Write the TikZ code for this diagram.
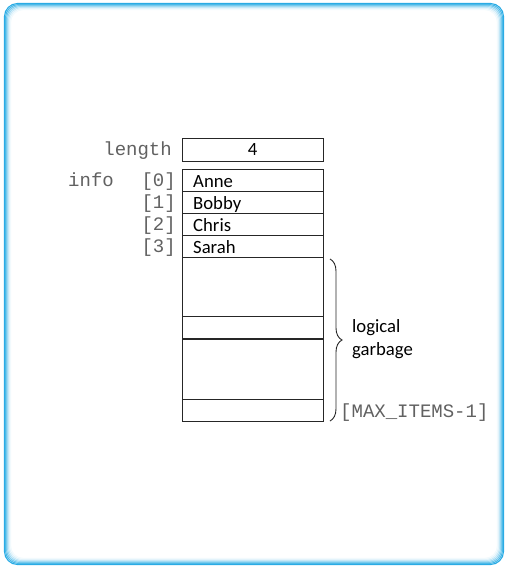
\documentclass[tikz,border=0pt]{standalone}
\usepackage{fontspec}
\setmainfont{Carlito}
\newfontfamily\monof{Liberation Mono}
\usetikzlibrary{decorations.pathreplacing}
\definecolor{frameblue}{RGB}{38,170,228}
\begin{document}
\begin{tikzpicture}[x=1pt,y=-1pt,
  cellbox/.style={draw=black!85, line width=1pt, rectangle, inner sep=0pt,
    minimum width=141pt, anchor=north west},
  celltxt/.style={font=\fontsize{18.7}{20}\selectfont, inner sep=0pt, anchor=base west},
  monotxt/.style={font=\monof\fontsize{19}{20}\selectfont, text=black!62, inner sep=0pt},
  sanstxt/.style={font=\fontsize{18.7}{20}\selectfont, inner sep=0pt, anchor=base west}]
\useasboundingbox (0,0) rectangle (505,566);
% frame with soft inner glow
\foreach \i/\c in {0/100,1/85,2/65,3/45,4/28,5/14,6/6}{
  \draw[frameblue!\c, line width=1.1pt, rounded corners=13pt]
    (4.5+\i,3.5+\i) rectangle (503.5-\i,564.5-\i);
}
% length box
\node[cellbox, minimum height=23pt] (len) at (182,138) {};
\node[celltxt, anchor=base] (lenv) at (252.5,155) {4};
\node[monotxt, anchor=base east] (lenl) at (172,155.5) {length};
% info cells
\node[cellbox, minimum height=22pt] (c0) at (182,169) {};
\node[cellbox, minimum height=22pt] (c1) at (182,191) {};
\node[cellbox, minimum height=22pt] (c2) at (182,213) {};
\node[cellbox, minimum height=22pt] (c3) at (182,235) {};
\node[cellbox, minimum height=59pt] (c4) at (182,257) {};
\node[cellbox, minimum height=23pt] (c5) at (182,316) {};
\node[cellbox, minimum height=60pt] (c6) at (182,339) {};
\node[cellbox, minimum height=22pt] (c7) at (182,399) {};
\draw[black!85, line width=2pt] (c6.north west) -- (c6.north east);
% names
\node[celltxt] (n0) at (193,187) {Anne};
\node[celltxt] (n1) at (193,209) {Bobby};
\node[celltxt] (n2) at (193,231) {Chris};
\node[celltxt] (n3) at (193,253) {Sarah};
% indices
\node[monotxt, anchor=base west] (info) at (68,186) {info};
\node[monotxt, anchor=base east] (i0) at (176,186) {[0]};
\node[monotxt, anchor=base east] (i1) at (176,208) {[1]};
\node[monotxt, anchor=base east] (i2) at (176,230) {[2]};
\node[monotxt, anchor=base east] (i3) at (176,252) {[3]};
% brace
\coordinate (bt) at (330,259);
\coordinate (bb) at (330,421);
\draw[black!85, line width=0.9pt, decorate, decoration={brace, amplitude=12pt}] (bt) -- (bb);
\node[sanstxt] (lg1) at (352,332) {logical};
\node[sanstxt] (lg2) at (352,355) {garbage};
\node[monotxt, anchor=base west] (maxi) at (340,417) {[MAX\_ITEMS-1]};
\end{tikzpicture}
\end{document}
